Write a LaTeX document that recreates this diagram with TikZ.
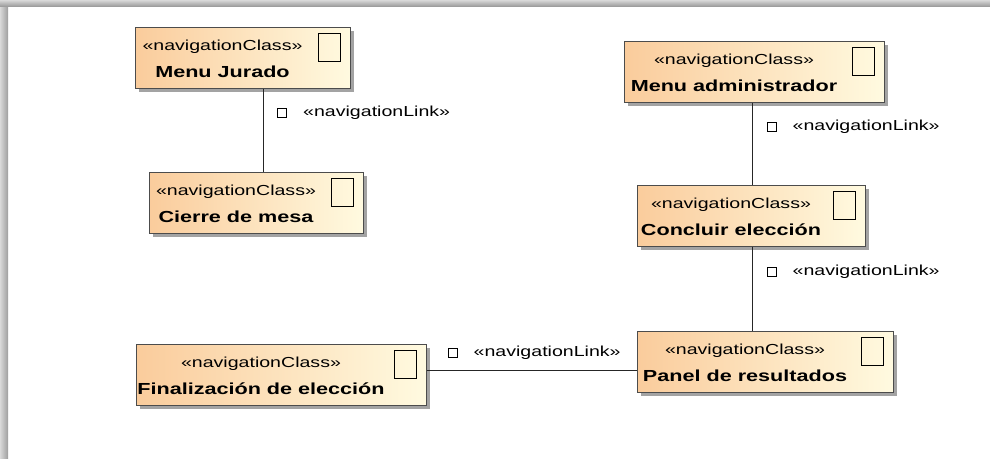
\documentclass[tikz,border=0pt]{standalone}
\usepackage{fontspec}
\setmainfont[FakeStretch=1.35]{Liberation Sans}
\usetikzlibrary{shadows,positioning}

\definecolor{navleft}{RGB}{250,204,156}
\definecolor{navright}{RGB}{255,250,224}

\begin{document}
\begin{tikzpicture}[x=1pt, y=-1pt,
    navbox/.style={draw=black!70, line width=0.6pt, left color=navleft, right color=navright,
        drop shadow={shadow xshift=4pt, shadow yshift=-4pt, fill=black!45, opacity=0.8},
        minimum height=61pt, inner sep=0pt, anchor=north west},
    navtext/.style={align=center, inner sep=0pt, font=\fontsize{14.5pt}{27pt}\selectfont},
    navicon/.style={draw=black, line width=1.1pt, minimum width=22pt, minimum height=28pt,
        inner sep=0pt, anchor=north east},
    navlink/.style={draw=black!85, line width=0.8pt},
    linkmark/.style={draw=black, line width=1pt, minimum size=9pt, inner sep=0pt},
    linktext/.style={inner sep=0pt, font=\fontsize{14.5pt}{17pt}\selectfont}]
    \useasboundingbox (0,0) rectangle (990,458);

    % window frame
    \shade[left color=black!15, right color=black!38] (0,0) rectangle (8,458);
    \shade[top color=black!15, bottom color=black!38] (0,0) rectangle (990,6);

    % navigation classes
    \foreach \n/\x/\y/\w/\t in {mj/135/27/215/Menu Jurado,
                                cm/149/172/214/Cierre de mesa,
                                ma/624/41/260/Menu administrador,
                                ce/637/185/228/Concluir elección,
                                fe/136/344/290/Finalización de elección,
                                pr/637/331/256/Panel de resultados} {
        \node[navbox, minimum width=\w pt] (\n) at (\x,\y) {};
        \node[navtext, anchor=base] (\n-t) at ([xshift={\w*0.5pt-20pt}, yshift=-50pt]\n.north west)
            {«navigationClass»\\{\fontsize{16pt}{27pt}\selectfont\bfseries \t}};
        \node[navicon] (\n-i) at ([xshift=-10pt, yshift=-6pt]\n.north east) {};
    }

    % navigation links
    \coordinate (x1) at (263,0);
    \coordinate (x2) at (752,0);
    \coordinate (y3) at (0,370);
    \draw[navlink] (mj.south -| x1) -- (cm.north -| x1);
    \draw[navlink] (ma.south -| x2) -- (ce.north -| x2);
    \draw[navlink] (ce.south -| x2) -- (pr.north -| x2);
    \draw[navlink] (fe.east |- y3) -- (pr.west |- y3);

    % link stereotypes
    \foreach \m/\x/\y in {1/282/113, 2/771.5/127, 3/771.5/272, 4/452.5/353} {
        \node[linkmark] (m\m) at (\x,\y) {};
        \node[linktext, right=16pt of m\m] (l\m) {«navigationLink»};
    }
\end{tikzpicture}
\end{document}
